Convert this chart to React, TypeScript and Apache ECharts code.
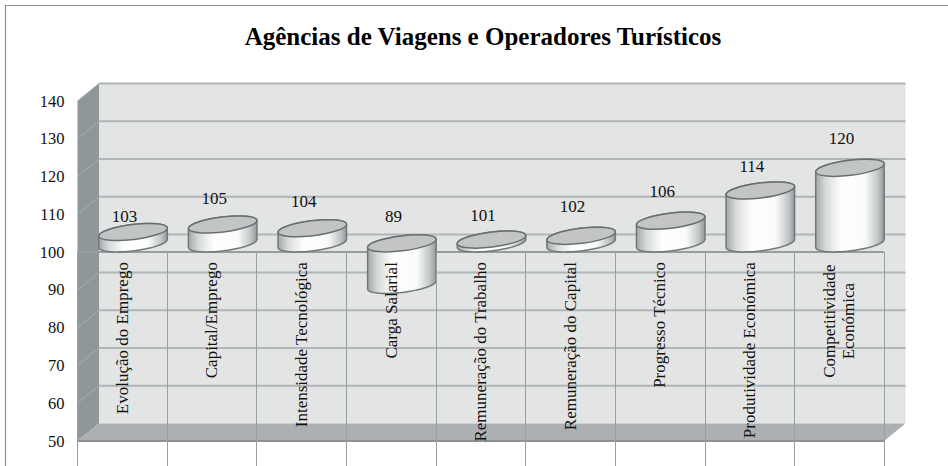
import React, { useEffect, useRef } from "react";
import * as echarts from "echarts";

const titleText = "Agências de Viagens e Operadores Turísticos";
const categories = [
  "Evolução do Emprego",
  "Capital/Emprego",
  "Intensidade Tecnológica",
  "Carga Salarial",
  "Remuneração do Trabalho",
  "Remuneração do Capital",
  "Progresso Técnico",
  "Produtividade Económica",
  "Competitividade\nEconómica",
];
const values = [103, 105, 104, 89, 101, 102, 106, 114, 120];
const yTicks = [50, 60, 70, 80, 90, 100, 110, 120, 130, 140];
const labelLift = [16, 26, 27, 27, 24.5, 29, 29, 24, 29];

const BASE = 100;
const Y_MIN = 50;
const Y_MAX = 140;
const GRID = { left: 77.5, top: 101, width: 806.5, height: 340 };
const DEPTH_X = 21.5;
const DEPTH_Y = -17.5;
const FONT = '"Liberation Serif", "Times New Roman", serif';
const RX = 34.5;
const RY = 7.5;
const TILT = (-7 * Math.PI) / 180;

const ellipsePoint = (cx: number, cy: number, t: number) => [
  cx + RX * Math.cos(t) * Math.cos(TILT) - RY * Math.sin(t) * Math.sin(TILT),
  cy + RX * Math.cos(t) * Math.sin(TILT) + RY * Math.sin(t) * Math.cos(TILT),
];
const T0 = Math.atan2(-RY * Math.sin(TILT), RX * Math.cos(TILT));

const arcPoints = (cx: number, cy: number, from: number, to: number) => {
  const out: number[][] = [];
  const n = 40;
  for (let i = 0; i <= n; i++) out.push(ellipsePoint(cx, cy, from + ((to - from) * i) / n));
  return out;
};

const renderWalls = (params: any) => {
  const c = params.coordSys;
  const l = c.x, r = c.x + c.width, t = c.y, b = c.y + c.height;
  return {
    type: "group",
    children: [
      {
        type: "polygon",
        shape: { points: [[l + DEPTH_X, t + DEPTH_Y], [r + DEPTH_X, t + DEPTH_Y], [r + DEPTH_X, b + DEPTH_Y], [l + DEPTH_X, b + DEPTH_Y]] },
        style: { fill: "#e3e4e4" },
      },
      {
        type: "polygon",
        shape: { points: [[l, t], [l + DEPTH_X, t + DEPTH_Y], [l + DEPTH_X, b + DEPTH_Y], [l, b]] },
        style: { fill: "#8f979b" },
      },
      {
        type: "polygon",
        shape: { points: [[l, b], [l + DEPTH_X, b + DEPTH_Y], [r + DEPTH_X, b + DEPTH_Y], [r, b]] },
        style: { fill: "#acb0b3" },
      },
      {
        type: "line",
        shape: { x1: l, y1: b, x2: r, y2: b },
        style: { stroke: "#8c9296", lineWidth: 2 },
      },
    ],
  };
};

const renderGridLine = (params: any, api: any) => {
  const c = params.coordSys;
  const v = api.value(1);
  const y = api.coord([0, v])[1];
  const l = c.x, r = c.x + c.width;
  const children: any[] = [];
  if (v > Y_MIN) {
    children.push({
      type: "line",
      shape: { x1: l + DEPTH_X, y1: y + DEPTH_Y, x2: r + DEPTH_X, y2: y + DEPTH_Y },
      style: { stroke: "#b1b5b7", lineWidth: 2 },
    });
    children.push({
      type: "line",
      shape: { x1: l, y1: y, x2: l + DEPTH_X, y2: y + DEPTH_Y },
      style: { stroke: v === BASE ? "#8f979b" : "#a9afb1", lineWidth: 1 },
    });
  }
  if (v === BASE) {
    children.push({
      type: "line",
      shape: { x1: l, y1: y, x2: r, y2: y },
      style: { stroke: "#989da0", lineWidth: 2 },
    });
  }
  return { type: "group", children };
};

const bodyFill = {
  type: "linear",
  x: 0, y: 0, x2: 1, y2: 0,
  colorStops: [
    { offset: 0, color: "#a3a8a9" },
    { offset: 0.15, color: "#d9dbdb" },
    { offset: 0.38, color: "#ffffff" },
    { offset: 0.72, color: "#fbfbfb" },
    { offset: 0.9, color: "#c4c8c9" },
    { offset: 1, color: "#949a9c" },
  ],
};

const renderCylinder = (_: any, api: any) => {
  const i = api.value(0);
  const v = api.value(1);
  const cx = api.coord([i, v])[0] + DEPTH_X / 2;
  const yBase = api.coord([i, BASE])[1] + DEPTH_Y / 2;
  const yVal = api.coord([i, v])[1] + DEPTH_Y / 2;
  const topY = Math.min(yBase, yVal);
  const botY = Math.max(yBase, yVal);
  const upper = arcPoints(cx, topY, T0 + Math.PI, T0 + 2 * Math.PI);
  const lower = arcPoints(cx, botY, T0, T0 + Math.PI);
  return {
    type: "group",
    children: [
      {
        type: "polygon",
        shape: { points: upper.concat(lower) },
        style: { fill: bodyFill, stroke: "#6f797b", lineWidth: 1.5 },
      },
      {
        type: "ellipse",
        x: cx,
        y: topY,
        rotation: -TILT,
        shape: { cx: 0, cy: 0, rx: RX, ry: RY },
        style: { fill: "#c3c5c5", stroke: "#667072", lineWidth: 1.5 },
      },
      {
        type: "text",
        style: {
          text: String(v),
          x: cx - 8.5,
          y: topY - labelLift[i],
          fill: "#111111",
          fontFamily: FONT,
          fontSize: 17,
          align: "center",
          verticalAlign: "middle",
        },
      },
    ],
  };
};

export default function App() {
  const ref = useRef<HTMLDivElement>(null);
  useEffect(() => {
    document.body.style.margin = "0";
    const chart = echarts.init(ref.current!, undefined, { renderer: "svg" });
    const baseOffset = -(GRID.height * (BASE - Y_MIN)) / (Y_MAX - Y_MIN);
    chart.setOption({
      animation: false,
      backgroundColor: "#ffffff",
      title: {
        text: titleText,
        left: 478,
        top: 19,
        textAlign: "center",
        textStyle: { fontFamily: FONT, fontWeight: "bold", fontSize: 25, color: "#000000" },
      },
      graphic: [
        {
          type: "polyline",
          shape: { points: [[5.5, 466], [5.5, 5.5], [948, 5.5]] },
          style: { stroke: "#8e9191", lineWidth: 1.2, fill: "none" },
        },
      ],
      grid: { ...GRID },
      xAxis: {
        type: "category",
        data: categories,
        offset: baseOffset,
        z: 6,
        axisLine: { show: false },
        axisTick: { show: true, length: 215, lineStyle: { color: "#999ea1", width: 1 } },
        axisLabel: {
          interval: 0,
          rotate: 90,
          margin: 10,
          color: "#111111",
          fontFamily: FONT,
          fontSize: 17,
          lineHeight: 19,
          formatter: (s: string) =>
            s.includes("\n") ? s.split("\n").map((p) => `{c|${p}}`).join("\n") : s,
          rich: {
            c: { width: 118, align: "center", fontFamily: FONT, fontSize: 17, lineHeight: 19, color: "#111111" },
          },
        },
      },
      yAxis: {
        type: "value",
        min: Y_MIN,
        max: Y_MAX,
        interval: 10,
        axisLine: { show: false },
        axisTick: { show: false },
        splitLine: { show: false },
        axisLabel: { margin: 13, color: "#111111", fontFamily: FONT, fontSize: 16.5 },
      },
      series: [
        { type: "custom", z: 1, silent: true, data: [[0, Y_MIN]], encode: { x: 0, y: 1 }, renderItem: renderWalls },
        { type: "custom", z: 2, silent: true, data: yTicks.map((t) => [0, t]), encode: { x: 0, y: 1 }, renderItem: renderGridLine },
        { type: "custom", z: 3, silent: true, data: values.map((v, i) => [i, v]), encode: { x: 0, y: 1 }, renderItem: renderCylinder },
      ],
    });
    return () => chart.dispose();
  }, []);
  return <div ref={ref} style={{ width: 948, height: 466 }} />;
}
